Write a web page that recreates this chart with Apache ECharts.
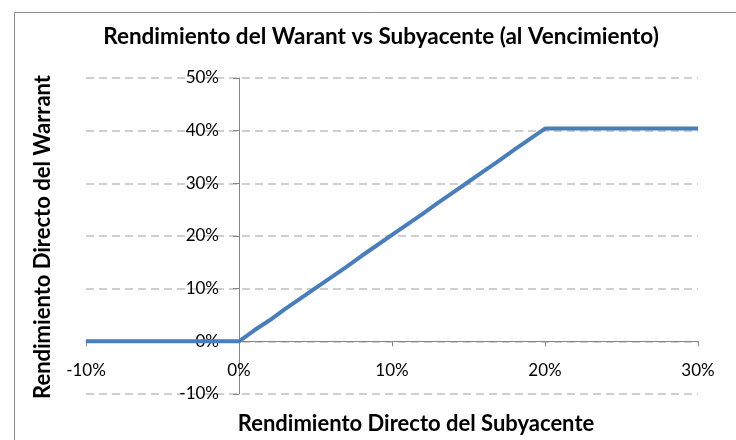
<!DOCTYPE html>
<html><head><meta charset="utf-8">
<script src="https://cdn.jsdelivr.net/npm/echarts@6/dist/echarts.min.js"></script>
<style>html,body{margin:0;padding:0;background:#fff}#c{width:736px;height:440px}</style>
</head><body><div id="c"></div>
<script>
const titleText = 'Rendimiento del Warant vs Subyacente (al Vencimiento)';
const xName = 'Rendimiento Directo del Subyacente';
const yName = 'Rendimiento Directo del Warrant';
// underlying return (%)
const underlying = [-10, -5, 0, 1, 2, 3, 4, 5, 6, 7, 8, 9, 10, 11, 12, 13, 14, 15, 16, 17, 18, 19, 20, 25, 30];
// warrant return (%)
const warrant = [0, 0, 0, 2.1, 4.0, 6.1, 8.1, 10.1, 12.1, 14.1, 16.2, 18.2, 20.2, 22.2, 24.2, 26.3, 28.3, 30.3, 32.3, 34.3, 36.4, 38.4, 40.4, 40.4, 40.4];
const xTicks = [-10, 0, 10, 20, 30];
const yTicks = [-10, 0, 10, 20, 30, 40, 50];

const GL = 86, GR = 38, GT = 78, GB = 46, W = 736, H = 440;
const chart = echarts.init(document.getElementById('c'), null, {renderer: 'canvas'});
const F = 'Lato, "Open Sans", sans-serif';
const xMin = xTicks[0], xMax = xTicks[xTicks.length - 1];
const yMin = yTicks[0], yMax = yTicks[yTicks.length - 1];
// shift axes so they cross at zero (labels follow the axis line)
const yAxisOffset = -(0 - xMin) / (xMax - xMin) * (W - GL - GR);
const xAxisOffset = -(0 - yMin) / (yMax - yMin) * (H - GT - GB);
chart.setOption({
  animation: false,
  backgroundColor: '#fff',
  grid: {left: GL, right: GR, top: GT, bottom: GB, containLabel: false},
  graphic: [
    {type: 'rect', left: 12, top: 10, shape: {width: 740, height: 440}, style: {fill: 'none', stroke: '#8c8c8c', lineWidth: 1}, silent: true},
    {type: 'text', x: 381, y: 37, style: {text: titleText, font: 'bold 22.5px ' + F, fill: '#000', textAlign: 'center', textVerticalAlign: 'middle'}},
    {type: 'text', x: 416, y: 424, style: {text: xName, font: 'bold 22px ' + F, fill: '#000', textAlign: 'center', textVerticalAlign: 'middle'}},
    {type: 'text', x: 43, y: 237, rotation: Math.PI / 2, style: {text: yName, font: 'bold 22px ' + F, fill: '#000', textAlign: 'center', textVerticalAlign: 'middle'}}
  ],
  xAxis: {
    type: 'value', min: xMin, max: xMax, interval: 10, offset: xAxisOffset,
    axisLine: {onZero: false, lineStyle: {color: '#868686', width: 1}},
    axisTick: {show: true, length: 5, lineStyle: {color: '#868686'}},
    splitLine: {show: false},
    axisLabel: {formatter: '{value}%', color: '#000', fontFamily: F, fontSize: 17, margin: 21}
  },
  yAxis: {
    type: 'value', min: yMin, max: yMax, interval: 10, offset: yAxisOffset,
    axisLine: {show: true, onZero: false, lineStyle: {color: '#868686', width: 1}},
    axisTick: {show: true, length: 6, lineStyle: {color: '#868686'}},
    splitLine: {show: true, lineStyle: {color: '#c0c0c0', width: 1.5, type: [8, 5]}},
    axisLabel: {formatter: '{value}%', color: '#000', fontFamily: F, fontSize: 17, margin: 20}
  },
  series: [{
    type: 'line', data: underlying.map((x, i) => [x, warrant[i]]),
    showSymbol: false, symbol: 'none',
    lineStyle: {color: '#4a7ebb', width: 4}
  }]
});
</script></body></html>
